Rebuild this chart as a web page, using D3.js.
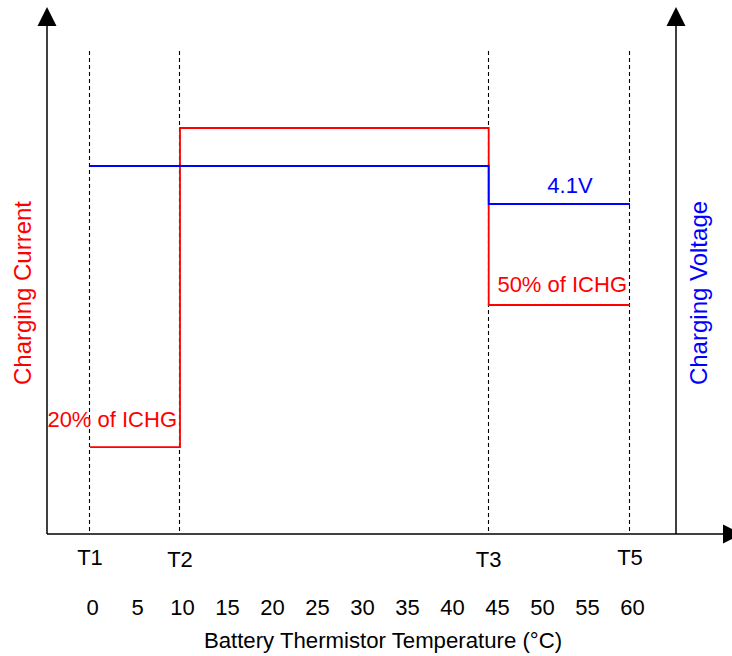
<!DOCTYPE html>
<html><head><meta charset="utf-8">
<script src="https://cdn.jsdelivr.net/npm/d3@7"></script>
<style>body{margin:0;background:#fff}svg{display:block}text{font-family:"Liberation Sans",Arial,Helvetica,sans-serif}</style>
</head><body>
<svg id="c" width="732" height="656"></svg>
<script>
// ---- data ----
const tempTicks = [0,5,10,15,20,25,30,35,40,45,50,55,60];
const thresholdNames = ["T1","T2","T3","T5"];
const thresholdTemps = [0,10,44.3,60];
// current level (relative height, % of axis)
const currentTemps = [0,10,44.3,60];
const currentLevels = [21.4,100,56.4];
const currentLabels = ["20% of ICHG","","50% of ICHG"];
// voltage
const voltageTemps = [0,44.3,60];
const voltageLevels = [4.2,4.1];
const voltageLabels = ["","4.1V"];

const svg = d3.select("#c");
const x = d3.scaleLinear().domain([0,60]).range([90,630]);
const yI = d3.scaleLinear().domain([0,100]).range([534,128]);
const yV = d3.scaleLinear().domain([4.1,4.2]).range([204,166]);
const axisX0 = 47, axisX1 = 676, axisY = 534;

// arrowheads
function arrow(tipX,tipY,dir){
  const L=19,W=9.5;
  let pts;
  if(dir==="up") pts=[[tipX,tipY],[tipX-W,tipY+L],[tipX+W,tipY+L]];
  else pts=[[tipX,tipY],[tipX-L,tipY-W],[tipX-L,tipY+W]];
  svg.append("polygon").attr("points",pts.map(p=>p.join(",")).join(" ")).attr("fill","#000");
}
// axes
svg.append("line").attr("x1",axisX0).attr("x2",axisX0).attr("y1",axisY).attr("y2",20).attr("stroke","#000").attr("stroke-width",1.5);
svg.append("line").attr("x1",axisX1).attr("x2",axisX1).attr("y1",axisY).attr("y2",20).attr("stroke","#000").attr("stroke-width",1.5);
svg.append("line").attr("x1",axisX0).attr("x2",730).attr("y1",axisY).attr("y2",axisY).attr("stroke","#000").attr("stroke-width",1.5);
arrow(axisX0,7,"up");
arrow(axisX1,7,"up");
arrow(742,axisY,"right");

// dashed thresholds
svg.selectAll("line.th").data(thresholdTemps).join("line").attr("class","th")
  .attr("x1",d=>Math.round(x(d))-0.5).attr("x2",d=>Math.round(x(d))-0.5).attr("y1",51).attr("y2",axisY)
  .attr("stroke","#000").attr("stroke-width",1.1).attr("stroke-dasharray","4,3");

// current step line
const curPts=[];
currentLevels.forEach((v,i)=>{curPts.push([currentTemps[i],v]);curPts.push([currentTemps[i+1],v]);});
svg.append("path").attr("d",d3.line().x(d=>x(d[0])).y(d=>yI(d[1]))(curPts))
  .attr("fill","none").attr("stroke","#ff0000").attr("stroke-width",1.8);
// voltage step line
const vPts=[];
voltageLevels.forEach((v,i)=>{vPts.push([voltageTemps[i],v]);vPts.push([voltageTemps[i+1],v]);});
svg.append("path").attr("d",d3.line().x(d=>x(d[0])).y(d=>yV(d[1]))(vPts))
  .attr("fill","none").attr("stroke","#0000ff").attr("stroke-width",1.8);

// labels on steps
currentLabels.forEach((t,i)=>{ if(!t) return;
  svg.append("text").attr("x",x(currentTemps[i+1])-3).attr("y",yI(currentLevels[i])-(i===0?20:13))
    .attr("text-anchor","end").attr("font-size",22).attr("fill","#ff0000").text(t);
});
voltageLabels.forEach((t,i)=>{ if(!t) return;
  svg.append("text").attr("x",570).attr("y",yV(voltageLevels[i])-11)
    .attr("text-anchor","middle").attr("font-size",22).attr("fill","#0000ff").text(t);
});

// threshold names
svg.selectAll("text.tn").data(thresholdNames).join("text").attr("class","tn")
  .attr("x",(d,i)=>x(thresholdTemps[i])).attr("y",(d,i)=>(i===1||i===2)?567:565)
  .attr("text-anchor","middle").attr("font-size",22).attr("fill","#000").text(d=>d);

// temperature ticks
const ax = svg.append("g").attr("transform",`translate(2,${597})`)
  .call(d3.axisBottom(x).tickValues(tempTicks).tickSize(0).tickFormat(d3.format("d")));
ax.select(".domain").remove();
ax.selectAll("text").attr("font-size",22).attr("font-family","Liberation Sans, Arial, sans-serif").attr("fill","#000").attr("dy","0").attr("y",18);

// titles
svg.append("text").attr("x",383).attr("y",648).attr("text-anchor","middle").attr("font-size",22.2).attr("fill","#000")
  .text("Battery Thermistor Temperature (°C)");
svg.append("text").attr("transform","translate(31,293) rotate(-90)").attr("text-anchor","middle").attr("font-size",24).attr("fill","#ff0000").text("Charging Current");
svg.append("text").attr("transform","translate(707,293) rotate(-90)").attr("text-anchor","middle").attr("font-size",24).attr("fill","#0000ff").text("Charging Voltage");
</script>
</body></html>
